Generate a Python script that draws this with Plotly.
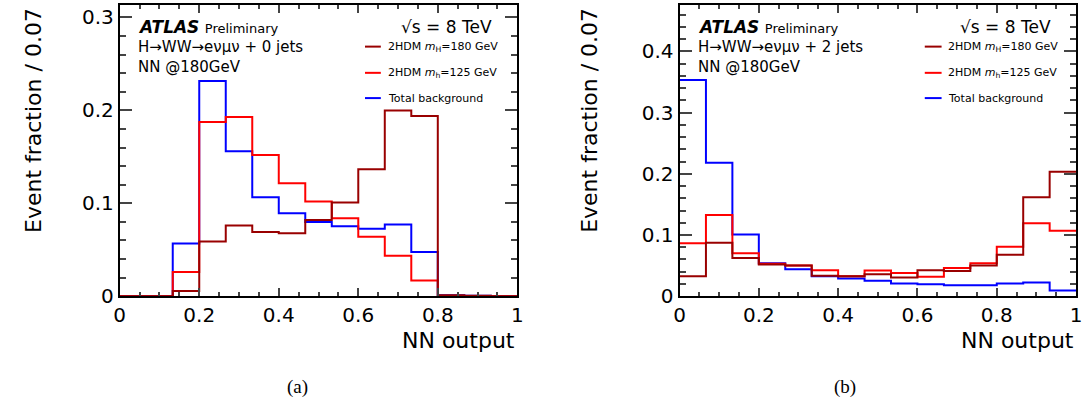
import plotly.graph_objects as go

# ---------------- data ----------------
bin_edges = [i / 15 for i in range(16)]

# (a) 0 jets
a_bkg = [0.0, 0.0, 0.0566, 0.2316, 0.156, 0.1066, 0.0892, 0.0799, 0.0753, 0.0726, 0.0771, 0.0476, 0.001, 0.0005, 0.0]
a_h125 = [0.0, 0.0, 0.026, 0.1875, 0.1927, 0.152, 0.1215, 0.102, 0.084, 0.064, 0.0434, 0.017, 0.0, 0.0, 0.0]
a_h180 = [0.0, 0.0, 0.0056, 0.059, 0.076, 0.069, 0.0677, 0.082, 0.1007, 0.1365, 0.1997, 0.194, 0.001, 0.0005, 0.0]

# (b) 2 jets
b_bkg = [0.3534, 0.218, 0.1007, 0.054, 0.044, 0.0328, 0.029, 0.0254, 0.0207, 0.0196, 0.018, 0.018, 0.0207, 0.0222, 0.0095]
b_h125 = [0.0864, 0.1325, 0.070, 0.053, 0.0503, 0.0424, 0.0328, 0.0419, 0.038, 0.0318, 0.046, 0.054, 0.081, 0.119, 0.107]
b_h180 = [0.0328, 0.0874, 0.0625, 0.052, 0.050, 0.0334, 0.0328, 0.036, 0.0307, 0.0424, 0.0413, 0.0503, 0.0678, 0.1616, 0.2034]

legend_labels = ["2HDM <i>m</i><sub>H</sub>=180 GeV", "2HDM <i>m</i><sub>h</sub>=125 GeV", "Total background"]
channel_labels = ["H\u2192WW\u2192e\u03bd\u03bc\u03bd + 0 jets", "H\u2192WW\u2192e\u03bd\u03bc\u03bd + 2 jets"]
x_title = "NN output"
y_title = "Event fraction / 0.07"
panel_tags = ["(a)", "(b)"]

C_DARK = "#990000"
C_RED = "#ff0000"
C_BLUE = "#0000ff"

W, H = 1090, 416
def px(x):
    return x / W
def py(y):
    return 1 - y / H

FONT = "DejaVu Sans"

fig = go.Figure()

def step(vals, color, xa, ya):
    fig.add_trace(go.Scatter(
        x=bin_edges, y=list(vals) + [vals[-1]],
        mode="lines", line=dict(color=color, width=2, shape="hv"),
        xaxis=xa, yaxis=ya, showlegend=False, hoverinfo="skip"))

for vals, col in [(a_bkg, C_BLUE), (a_h125, C_RED), (a_h180, C_DARK)]:
    step(vals, col, "x", "y")
for vals, col in [(b_bkg, C_BLUE), (b_h125, C_RED), (b_h180, C_DARK)]:
    step(vals, col, "x2", "y2")

ydom = [py(305), py(5)]
common_x = dict(range=[0, 1], dtick=0.2, tick0=0, ticks="inside", ticklen=8, tickwidth=1.5,
                showline=True, linewidth=2, linecolor="black", mirror="allticks",
                showgrid=False, zeroline=False,
                tickfont=dict(family=FONT, size=20, color="black"),
                minor=dict(dtick=0.05, ticklen=4, tickwidth=1.5, ticks="inside", showgrid=False))
common_y = dict(dtick=0.1, tick0=0, ticks="inside", ticklen=12, tickwidth=1.5,
                showline=True, linewidth=2, linecolor="black", mirror="allticks",
                showgrid=False, zeroline=False, domain=ydom,
                tickfont=dict(family=FONT, size=20, color="black"),
                minor=dict(dtick=0.02, ticklen=6, tickwidth=1.5, ticks="inside", showgrid=False))

fig.update_layout(
    width=W, height=H, margin=dict(l=0, r=0, t=0, b=0),
    paper_bgcolor="white", plot_bgcolor="white", showlegend=False,
    xaxis=dict(domain=[px(115), px(517)], anchor="y", **common_x),
    yaxis=dict(range=[0, 0.3135], anchor="x", **common_y),
    xaxis2=dict(domain=[px(681), px(1082)], anchor="y2", **common_x),
    yaxis2=dict(range=[0, 0.476], anchor="x2", **common_y),
)

ann = []
shapes = []
panels = [
    dict(x0=115, x1=517, atlas=131, sqrt_r=493, leg_l=363, leg_r=379, leg_t=384, ytit=28, tag=295, ch=channel_labels[0], t=panel_tags[0]),
    dict(x0=681, x1=1082, atlas=698, sqrt_r=1059, leg_l=929, leg_r=946, leg_t=950, ytit=590, tag=848, ch=channel_labels[1], t=panel_tags[1]),
]
for p in panels:
    ann.append(dict(x=px(p["atlas"]), y=py(28), xref="paper", yref="paper", xanchor="left", yanchor="middle",
                    text="<b><i>ATLAS</i></b> <span style='font-size:13px'>Preliminary</span>",
                    showarrow=False, font=dict(family=FONT, size=17, color="black")))
    ann.append(dict(x=px(p["atlas"]), y=py(48), xref="paper", yref="paper", xanchor="left", yanchor="middle",
                    text=p["ch"], showarrow=False, font=dict(family=FONT, size=15, color="black")))
    ann.append(dict(x=px(p["atlas"]), y=py(69), xref="paper", yref="paper", xanchor="left", yanchor="middle",
                    text="NN @180GeV", showarrow=False, font=dict(family=FONT, size=15, color="black")))
    ann.append(dict(x=px(p["sqrt_r"]), y=py(28), xref="paper", yref="paper", xanchor="right", yanchor="middle",
                    text="\u221as = 8 TeV", showarrow=False, font=dict(family=FONT, size=17, color="black")))
    for lab, col, yy in zip(legend_labels, [C_DARK, C_RED, C_BLUE], [48, 75, 101]):
        shapes.append(dict(type="line", xref="paper", yref="paper", x0=px(p["leg_l"]), x1=px(p["leg_r"]),
                           y0=py(yy), y1=py(yy), line=dict(color=col, width=2)))
        ann.append(dict(x=px(p["leg_t"]), y=py(yy), xref="paper", yref="paper", xanchor="left", yanchor="middle",
                        text=lab, showarrow=False, font=dict(family=FONT, size=11, color="black")))
    ann.append(dict(x=px(p["x1"]), y=py(351), xref="paper", yref="paper", xanchor="right", yanchor="middle",
                    text=x_title, showarrow=False, font=dict(family=FONT, size=22, color="black")))
    ann.append(dict(x=px(p["ytit"]), y=py(6), xref="paper", yref="paper", xanchor="center", yanchor="top",
                    text=y_title, textangle=-90, showarrow=False, font=dict(family=FONT, size=22, color="black")))
    ann.append(dict(x=px(p["tag"]), y=py(398), xref="paper", yref="paper", xanchor="center", yanchor="middle",
                    text=p["t"], showarrow=False, font=dict(family="Liberation Serif", size=19, color="black")))

fig.update_layout(annotations=ann, shapes=shapes)
fig.write_html("out.html", config={"displayModeBar": False},
               post_script="document.body.style.margin='0px';document.body.style.overflow='hidden';")
